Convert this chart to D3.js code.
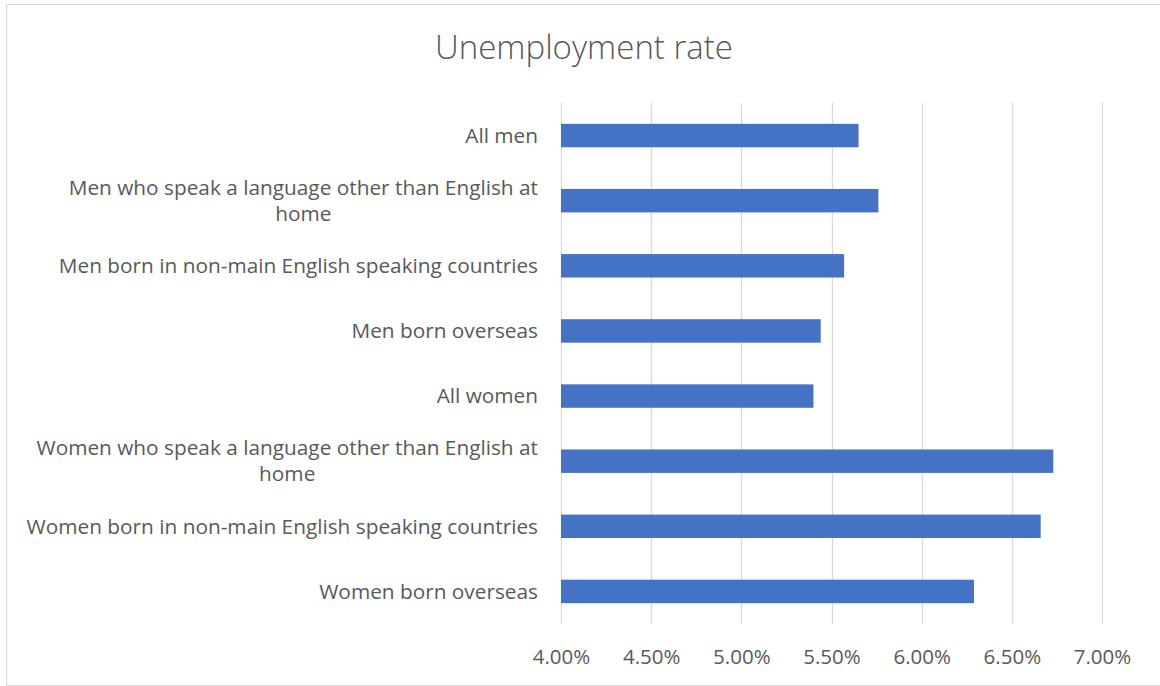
<!DOCTYPE html>
<html>
<head>
<meta charset="utf-8">
<script src="https://cdn.jsdelivr.net/npm/d3@7"></script>
<style>
  body { margin: 0; background: #fff; }
  text { font-family: "Open Sans", sans-serif; fill: #595959; }
</style>
</head>
<body>
<div id="chart"></div>
<script>
// categories top to bottom, values in percent
var categories = [
    "All men",
    "Men who speak a language other than English at home",
    "Men born in non-main English speaking countries",
    "Men born overseas",
    "All women",
    "Women who speak a language other than English at home",
    "Women born in non-main English speaking countries",
    "Women born overseas"
];
var rates = [5.65, 5.76, 5.57, 5.44, 5.40, 6.73, 6.66, 6.29];
var tickValues = [4.0, 4.5, 5.0, 5.5, 6.0, 6.5, 7.0];
var chartTitle = "Unemployment rate";

var width = 1160, height = 686;
var plotLeft = 561, plotRight = 1102, plotTop = 103, plotBottom = 624;

var svg = d3.select("#chart").append("svg")
    .attr("width", width)
    .attr("height", height);

// chart frame
svg.append("rect")
    .attr("x", 6.5)
    .attr("y", 4.5)
    .attr("width", width)
    .attr("height", 681)
    .attr("fill", "#fff")
    .attr("stroke", "#d9d9d9");

var x = d3.scaleLinear().domain([4, 7]).range([plotLeft, plotRight]);
var y = d3.scaleBand().domain(categories).range([plotTop, plotBottom]).paddingInner(0.64).paddingOuter(0.32);

// gridlines
svg.append("g")
    .selectAll("line")
    .data(tickValues)
    .enter().append("line")
    .attr("x1", function(d) { return Math.round(x(d)) + 0.5; })
    .attr("x2", function(d) { return Math.round(x(d)) + 0.5; })
    .attr("y1", plotTop)
    .attr("y2", plotBottom)
    .attr("stroke", "#d9d9d9")
    .attr("stroke-width", 1.3);

// bars
svg.append("g")
    .selectAll("rect")
    .data(rates)
    .enter().append("rect")
    .attr("x", x(4))
    .attr("y", function(d, i) { return y(categories[i]); })
    .attr("width", function(d) { return x(d) - x(4); })
    .attr("height", y.bandwidth())
    .attr("fill", "#4472c4");

// x axis labels
var xAxis = d3.axisBottom(x)
    .tickValues(tickValues)
    .tickSize(0)
    .tickPadding(0)
    .tickFormat(function(d) { return d.toFixed(2) + "%"; });

var gx = svg.append("g")
    .attr("transform", "translate(0," + plotBottom + ")")
    .call(xAxis);
gx.select(".domain").remove();
gx.selectAll("text")
    .attr("y", 33)
    .attr("dy", "0.35em")
    .attr("font-family", null)
    .attr("font-size", null)
    .style("font-size", "20.5px")
    .style("fill", "#595959");

// category labels, wrapped like the spreadsheet does
var labelX = 538, maxWidth = 520, lineHeight = 26;
var labels = svg.append("g").style("font-size", "20.8px");

categories.forEach(function(cat, i) {
    var cy = y(cat) + y.bandwidth() / 2;
    var words = cat.split(" ");
    var lines = [];
    var line = [];
    var probe = labels.append("text");
    words.forEach(function(w) {
        line.push(w);
        probe.text(line.join(" "));
        if (probe.node().getComputedTextLength() > maxWidth && line.length > 1) {
            line.pop();
            lines.push(line.join(" "));
            line = [w];
        }
    });
    lines.push(line.join(" "));
    probe.remove();

    if (lines.length == 1) {
        labels.append("text")
            .attr("x", labelX)
            .attr("y", cy)
            .attr("dy", "0.35em")
            .attr("text-anchor", "end")
            .text(lines[0]);
    } else {
        // multi-line labels are centred on the longest line
        var t = labels.append("text").text(lines[0]);
        var w0 = t.node().getComputedTextLength();
        t.remove();
        var centre = labelX - w0 / 2;
        lines.forEach(function(l, k) {
            labels.append("text")
                .attr("x", centre)
                .attr("y", cy + (k - (lines.length - 1) / 2) * lineHeight)
                .attr("dy", "0.35em")
                .attr("text-anchor", "middle")
                .text(l);
        });
    }
});

// title
svg.append("text")
    .attr("x", 584)
    .attr("y", 47)
    .attr("dy", "0.35em")
    .attr("text-anchor", "middle")
    .style("font-size", "33px")
    .style("font-weight", "300")
    .text(chartTitle);
</script>
</body>
</html>
